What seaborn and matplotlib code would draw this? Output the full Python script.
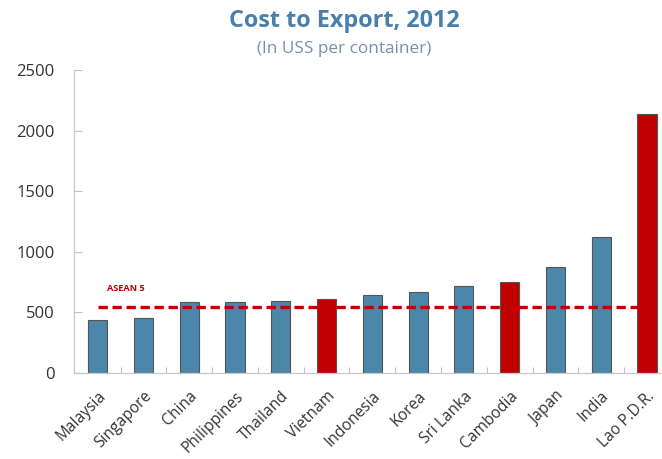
import matplotlib
matplotlib.use("Agg")
import matplotlib.pyplot as plt
import seaborn as sns
import pandas as pd

countries = ["Malaysia", "Singapore", "China", "Philippines", "Thailand", "Vietnam",
             "Indonesia", "Korea", "Sri Lanka", "Cambodia", "Japan", "India", "Lao P.D.R."]
cost = [437, 456, 583, 588, 590, 610, 647, 667, 717, 754, 877, 1122, 2137]
highlight = ["Vietnam", "Cambodia", "Lao P.D.R."]
asean5_avg = 544
yticks = [0, 500, 1000, 1500, 2000, 2500]

BLUE = "#4a87a9"
RED = "#c00000"

sns.set_theme(style="white")
plt.rcParams["font.family"] = ["Open Sans", "DejaVu Sans"]

df = pd.DataFrame({"country": countries, "cost": cost})
palette = {c: (RED if c in highlight else BLUE) for c in countries}

fig = plt.figure(figsize=(6.62, 4.59), dpi=100)
ax = fig.add_axes([0.1118, 0.1874, 0.8882, 0.6601])

sns.barplot(data=df, x="country", y="cost", hue="country", palette=palette,
            width=0.42, edgecolor="#555555", linewidth=0.8, legend=False,
            saturation=1, ax=ax, zorder=2)

ax.hlines(asean5_avg, 0, 11.8, colors=RED, linestyles=(0, (2.8, 1.4)),
          linewidth=2.4, zorder=3)
ax.text(0.2, 693, "ASEAN 5", color=RED, fontsize=6.6, fontweight="bold",
        ha="left", va="center")

ax.set_xlim(-0.52, 12.33)
ax.set_ylim(0, 2500)
ax.set_yticks(yticks)
ax.set_yticklabels([str(v) for v in yticks], fontsize=12, color="#333333")
ax.set_xticks(range(len(countries)))
ax.set_xticklabels(countries, rotation=45, ha="right", rotation_mode="anchor",
                   fontsize=11.2, color="#333333")
ax.set_xlabel("")
ax.set_ylabel("")

# category boundary ticks along the baseline
ax.set_xticks([i + 0.5 for i in range(len(countries) - 1)], minor=True)
ax.tick_params(axis="x", which="major", length=0, pad=11)
ax.tick_params(axis="x", which="minor", direction="in", length=4, color="#c0c0c0",
               width=0.8, bottom=True)
ax.tick_params(axis="y", direction="in", length=6, color="#c0c0c0", width=0.8, pad=14,
               left=True)

for side in ["top", "right"]:
    ax.spines[side].set_visible(False)
for side in ["left", "bottom"]:
    ax.spines[side].set_color("#c8c8c8")
    ax.spines[side].set_linewidth(0.9)

fig.text(0.52, 0.955, "Cost to Export, 2012", ha="center", va="center",
         fontsize=16.8, fontweight="bold", color="#4a7fab")
fig.text(0.52, 0.893, "(In USS per container)", ha="center", va="center",
         fontsize=12.3, color="#7590ad")

fig.savefig("out.png", dpi=100)
